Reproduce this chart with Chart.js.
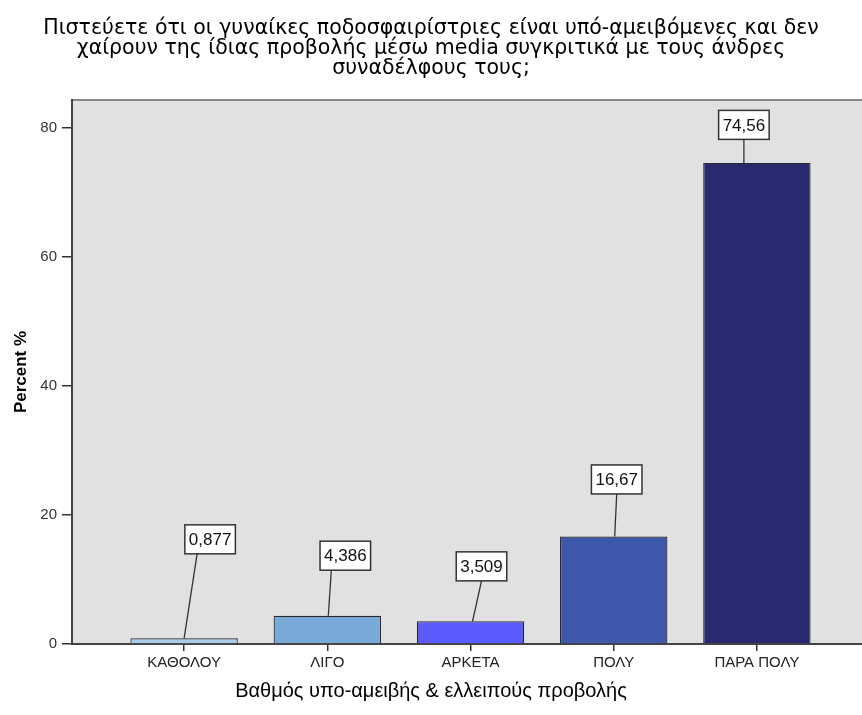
<!DOCTYPE html>
<html>
<head>
<meta charset="utf-8">
<script src="https://cdn.jsdelivr.net/npm/chart.js@4.4.1/dist/chart.umd.min.js"></script>
<style>
  html, body { margin: 0; padding: 0; background: #fff; }
  #wrap { width: 862px; height: 715px; }
</style>
</head>
<body>
<div id="wrap"><canvas id="percentChart" width="862" height="715"></canvas></div>
<script>
const categories = ['ΚΑΘΟΛΟΥ', 'ΛΙΓΟ', 'ΑΡΚΕΤΑ', 'ΠΟΛΥ', 'ΠΑΡΑ ΠΟΛΥ'];
const percentValues = [0.877, 4.386, 3.509, 16.67, 74.56];
const yTicks = [0, 20, 40, 60, 80];

const barColors = ['#a9cbec', '#79a9d7', '#5b5cfe', '#3d58a8', '#28296e'];
// where the boxed value labels sit, relative to the top of each bar (px)
const labelShiftX = [26, 18, 11, 3, -13];
const labelShiftY = [-99, -60, -55, -57, -38];
const leaderFootX = [0, 1, 2, 1, -13];
const leaderHeadX = [-13, -14, 0, 0, 0];

const FONT = '"Liberation Sans", Arial, sans-serif';

const plotBackground = {
    id: 'plotBackground',
    beforeDraw(chart) {
        const { ctx, chartArea: a } = chart;
        ctx.save();
        ctx.fillStyle = '#e1e1e1';
        ctx.fillRect(a.left, a.top, a.right - a.left, a.bottom - a.top);
        ctx.strokeStyle = '#888';
        ctx.lineWidth = 2;
        ctx.beginPath();
        ctx.moveTo(a.left, a.top);
        ctx.lineTo(a.right, a.top);
        ctx.stroke();
        ctx.restore();
    }
};

const boxedLabels = {
    id: 'boxedLabels',
    afterDatasetsDraw(chart) {
        const ctx = chart.ctx;
        const meta = chart.getDatasetMeta(0);
        ctx.save();
        ctx.font = '17px ' + FONT;
        meta.data.forEach((bar, i) => {
            const text = String(percentValues[i]).replace('.', ',');
            const cx = bar.x + labelShiftX[i];
            const cy = bar.y + labelShiftY[i];
            const w = ctx.measureText(text).width + 8;
            const h = 29;
            ctx.strokeStyle = '#333';
            ctx.lineWidth = 1.3;
            ctx.beginPath();
            ctx.moveTo(bar.x + leaderFootX[i], bar.y);
            ctx.lineTo(cx + leaderHeadX[i], cy + h / 2);
            ctx.stroke();
            ctx.fillStyle = '#fff';
            ctx.fillRect(cx - w / 2, cy - h / 2, w, h);
            ctx.lineWidth = 1.5;
            ctx.strokeRect(cx - w / 2, cy - h / 2, w, h);
            ctx.fillStyle = '#111';
            ctx.textAlign = 'center';
            ctx.textBaseline = 'middle';
            ctx.fillText(text, cx, cy + 1);
        });
        ctx.restore();
    }
};

const chart = new Chart(document.getElementById('percentChart'), {
    type: 'bar',
    data: {
        datasets: [{
            data: percentValues.map((v, i) => ({ x: i, y: v })),
            backgroundColor: barColors,
            borderColor: '#2a2a2a',
            borderWidth: 1.2,
            categoryPercentage: 1,
            barPercentage: 0.75
        }]
    },
    options: {
        responsive: false,
        animation: false,
        layout: { padding: { left: 0, right: 0, top: 0, bottom: 0 } },
        plugins: {
            legend: { display: false },
            tooltip: { enabled: false },
            title: {
                display: true,
                text: [
                    'Πιστεύετε ότι οι γυναίκες ποδοσφαιρίστριες είναι υπό-αμειβόμενες και δεν',
                    'χαίρουν της ίδιας προβολής μέσω media συγκριτικά με τους άνδρες',
                    'συναδέλφους τους;'
                ],
                color: '#000',
                font: { family: '"DejaVu Sans", sans-serif', size: 20.5, weight: 'normal', lineHeight: 0.96 },
                padding: { top: 19, bottom: 22 }
            },
            subtitle: {
                display: true,
                position: 'bottom',
                text: 'Βαθμός υπο-αμειβής & ελλειπούς προβολής',
                color: '#000',
                font: { family: FONT, size: 20, weight: 'normal' },
                padding: { top: 4, bottom: 12 }
            }
        },
        scales: {
            x: {
                type: 'linear',
                offset: false,
                min: -0.783,
                max: 4.734,
                afterBuildTicks: (scale) => { scale.ticks = categories.map((c, i) => ({ value: i })); },
                ticks: {
                    callback: (v) => categories[v],
                    color: '#222',
                    font: { family: FONT, size: 15 },
                    padding: 3,
                    autoSkip: false,
                    maxRotation: 0
                },
                grid: { drawOnChartArea: false, offset: false, tickLength: 7, color: '#333', lineWidth: 1.5 },
                border: { color: '#444', width: 2 }
            },
            y: {
                min: 0,
                max: 84.3,
                afterBuildTicks: (scale) => { scale.ticks = yTicks.map(v => ({ value: v })); },
                ticks: { color: '#333', font: { family: FONT, size: 15 }, padding: 5 },
                grid: { drawOnChartArea: false, tickLength: 10, color: '#333', lineWidth: 1.5 },
                border: { color: '#444', width: 2 },
                title: {
                    display: true,
                    text: 'Percent %',
                    color: '#000',
                    font: { family: FONT, size: 17, weight: 'bold' },
                    padding: { top: 11, bottom: 0 }
                },
                afterFit: (scale) => { scale.width = 72; }
            }
        }
    },
    plugins: [plotBackground, boxedLabels]
});
</script>
</body>
</html>
